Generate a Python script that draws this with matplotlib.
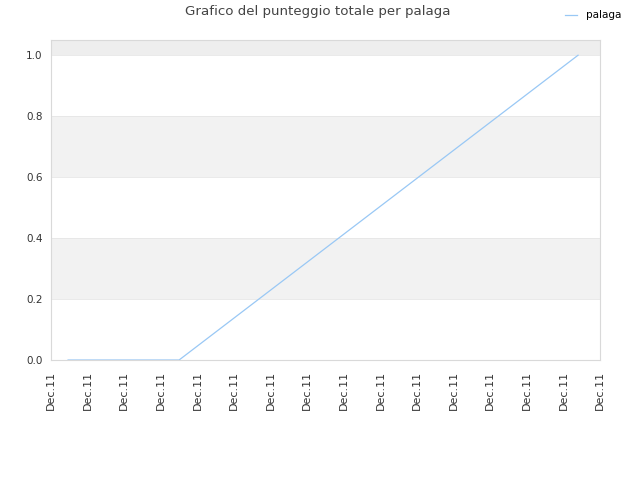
"""
Total score chart for palaga.
"""

import datetime as dt

import matplotlib
matplotlib.use('Agg')
import matplotlib.dates as mdate
import matplotlib.pyplot as plt

# data
times = [dt.datetime(2011, 12, 11, 0, 28), dt.datetime(2011, 12, 11, 3, 30),
         dt.datetime(2011, 12, 11, 14, 24)]
scores = [0.0, 0.0, 1.0]
series_name = 'palaga'
title = 'Grafico del punteggio totale per palaga'

fig = plt.figure(figsize=(6.4, 4.8), dpi=100)
ax = fig.add_axes([0.0797, 0.25, 0.8578, 0.6667])

# alternating bands
for lo, hi, col in [(0.2, 0.4, '#f2f2f2'), (0.6, 0.8, '#f2f2f2'), (1.0, 1.05, '#eeeeee')]:
    ax.axhspan(lo, hi, color=col, zorder=0, lw=0)
for yv in [0.2, 0.4, 0.6, 0.8, 1.0]:
    ax.axhline(yv, color='#e6e6e6', lw=0.6, zorder=0.5)

ax.plot(times, scores, color='#99c8f5', lw=0.9, label=series_name)

ax.set_ylim(0, 1.05)
ax.set_xlim(dt.datetime(2011, 12, 11, 0, 0), dt.datetime(2011, 12, 11, 15, 0))
ax.set_yticks([0.0, 0.2, 0.4, 0.6, 0.8, 1.0])
ax.xaxis.set_major_locator(mdate.HourLocator(interval=1))
ax.xaxis.set_major_formatter(mdate.DateFormatter('%b.%d'))
plt.setp(ax.get_xticklabels(), rotation=90)
ax.tick_params(labelsize=7.5, colors='#333333', length=0, pad=6)
ax.tick_params(axis='x', labelsize=8, pad=8)

for s in ax.spines.values():
    s.set_color('#d9d9d9')

fig.suptitle(title, x=0.497, y=0.99, fontsize=9.6, color='#444444')
fig.legend(loc='upper right', bbox_to_anchor=(0.985, 0.998), frameon=False,
           fontsize=7.5, handlelength=1.2)

plt.savefig('out.png')
